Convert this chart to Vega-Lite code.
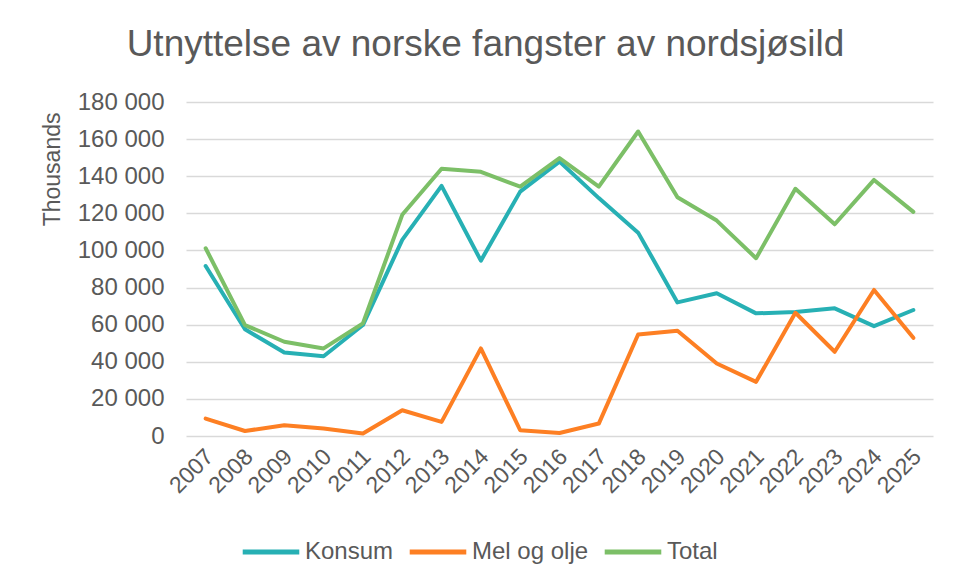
{
  "$schema": "https://vega.github.io/schema/vega-lite/v6.json",
  "autosize": {"type": "none"},
  "width": 747,
  "height": 334,
  "padding": {"left": 186, "top": 102, "right": 20, "bottom": 144},
  "background": "white",
  "title": {
    "text": "Utnyttelse av norske fangster av nordsjøsild",
    "fontSize": 37,
    "fontWeight": "normal",
    "font": "Liberation Sans",
    "color": "#595959",
    "anchor": "middle",
    "baseline": "alphabetic",
    "offset": -3,
    "dx": -74
  },
  "data": {
    "values": [
      {"year": "2007", "series": "Konsum", "value": 91600},
      {"year": "2008", "series": "Konsum", "value": 57500},
      {"year": "2009", "series": "Konsum", "value": 45000},
      {"year": "2010", "series": "Konsum", "value": 43000},
      {"year": "2011", "series": "Konsum", "value": 59800},
      {"year": "2012", "series": "Konsum", "value": 105700},
      {"year": "2013", "series": "Konsum", "value": 134800},
      {"year": "2014", "series": "Konsum", "value": 94500},
      {"year": "2015", "series": "Konsum", "value": 131700},
      {"year": "2016", "series": "Konsum", "value": 147900},
      {"year": "2017", "series": "Konsum", "value": 128200},
      {"year": "2018", "series": "Konsum", "value": 109600},
      {"year": "2019", "series": "Konsum", "value": 72000},
      {"year": "2020", "series": "Konsum", "value": 76900},
      {"year": "2021", "series": "Konsum", "value": 66100},
      {"year": "2022", "series": "Konsum", "value": 66800},
      {"year": "2023", "series": "Konsum", "value": 68800},
      {"year": "2024", "series": "Konsum", "value": 59200},
      {"year": "2025", "series": "Konsum", "value": 67900},
      {"year": "2007", "series": "Mel og olje", "value": 9400},
      {"year": "2008", "series": "Mel og olje", "value": 2700},
      {"year": "2009", "series": "Mel og olje", "value": 5800},
      {"year": "2010", "series": "Mel og olje", "value": 4000},
      {"year": "2011", "series": "Mel og olje", "value": 1300},
      {"year": "2012", "series": "Mel og olje", "value": 13900},
      {"year": "2013", "series": "Mel og olje", "value": 7600},
      {"year": "2014", "series": "Mel og olje", "value": 47200},
      {"year": "2015", "series": "Mel og olje", "value": 3100},
      {"year": "2016", "series": "Mel og olje", "value": 1600},
      {"year": "2017", "series": "Mel og olje", "value": 6700},
      {"year": "2018", "series": "Mel og olje", "value": 54700},
      {"year": "2019", "series": "Mel og olje", "value": 56700},
      {"year": "2020", "series": "Mel og olje", "value": 39100},
      {"year": "2021", "series": "Mel og olje", "value": 29200},
      {"year": "2022", "series": "Mel og olje", "value": 66400},
      {"year": "2023", "series": "Mel og olje", "value": 45400},
      {"year": "2024", "series": "Mel og olje", "value": 78700},
      {"year": "2025", "series": "Mel og olje", "value": 52900},
      {"year": "2007", "series": "Total", "value": 101200},
      {"year": "2008", "series": "Total", "value": 59800},
      {"year": "2009", "series": "Total", "value": 50800},
      {"year": "2010", "series": "Total", "value": 47200},
      {"year": "2011", "series": "Total", "value": 60700},
      {"year": "2012", "series": "Total", "value": 119200},
      {"year": "2013", "series": "Total", "value": 144000},
      {"year": "2014", "series": "Total", "value": 142400},
      {"year": "2015", "series": "Total", "value": 134400},
      {"year": "2016", "series": "Total", "value": 149800},
      {"year": "2017", "series": "Total", "value": 134400},
      {"year": "2018", "series": "Total", "value": 164100},
      {"year": "2019", "series": "Total", "value": 128700},
      {"year": "2020", "series": "Total", "value": 116100},
      {"year": "2021", "series": "Total", "value": 95800},
      {"year": "2022", "series": "Total", "value": 133200},
      {"year": "2023", "series": "Total", "value": 114100},
      {"year": "2024", "series": "Total", "value": 138000},
      {"year": "2025", "series": "Total", "value": 120800}
    ]
  },
  "mark": {"type": "line", "strokeWidth": 4, "strokeCap": "round", "strokeJoin": "round"},
  "encoding": {
    "x": {
      "field": "year",
      "type": "ordinal",
      "scale": {"type": "point", "padding": 0.5},
      "axis": {
        "title": null,
        "labelAngle": -45,
        "labelFontSize": 23,
        "labelColor": "#595959",
        "labelFont": "Liberation Sans",
        "ticks": false,
        "domain": false,
        "grid": false,
        "labelPadding": 9,
        "labelOffset": -4
      }
    },
    "y": {
      "field": "value",
      "type": "quantitative",
      "scale": {"domain": [0, 180000]},
      "axis": {
        "title": "Thousands",
        "titleFontSize": 23,
        "titleFontWeight": "normal",
        "titleColor": "#595959",
        "titleFont": "Liberation Sans",
        "titleAnchor": "end",
        "titleY": 10,
        "titleX": -122,
        "values": [0, 20000, 40000, 60000, 80000, 100000, 120000, 140000, 160000, 180000],
        "labelExpr": "replace(format(datum.value, ','), ',', ' ')",
        "labelFontSize": 24,
        "labelColor": "#595959",
        "labelFont": "Liberation Sans",
        "labelPadding": 22,
        "ticks": false,
        "domain": false,
        "gridColor": "#D9D9D9",
        "gridWidth": 1.5
      }
    },
    "color": {
      "field": "series",
      "type": "nominal",
      "scale": {"domain": ["Konsum", "Mel og olje", "Total"], "range": ["#27B0B4", "#FD7F23", "#7CBF67"]},
      "legend": {
        "title": null,
        "orient": "none",
        "direction": "horizontal",
        "legendX": 54,
        "legendY": 419,
        "symbolType": "stroke",
        "symbolSize": 3200,
        "symbolStrokeWidth": 5,
        "labelFontSize": 24,
        "labelColor": "#595959",
        "labelFont": "Liberation Sans",
        "labelOffset": 3,
        "columnPadding": 5
      }
    }
  },
  "config": {
    "view": {"stroke": null}
  }
}
